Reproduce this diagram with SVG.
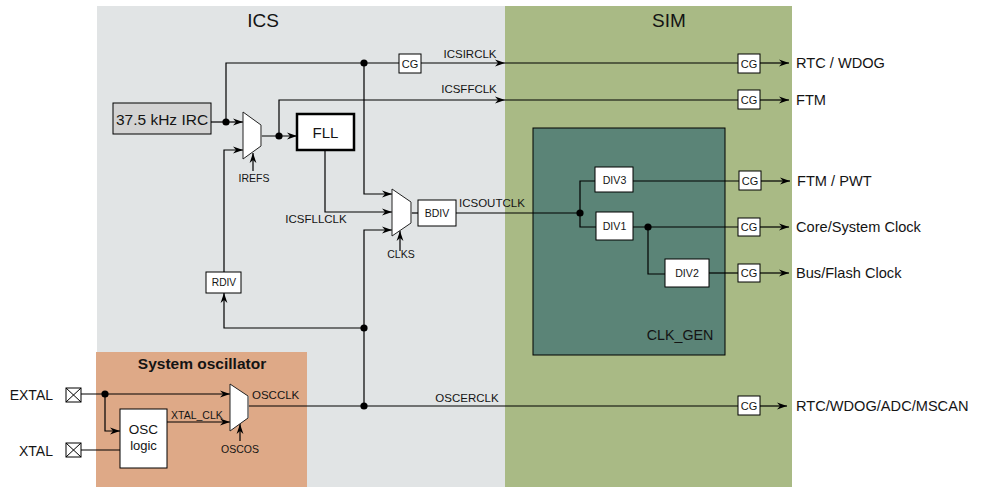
<svg xmlns="http://www.w3.org/2000/svg" width="996" height="487" viewBox="0 0 996 487">
<defs>
<marker id="arr" markerUnits="userSpaceOnUse" markerWidth="10" markerHeight="8" refX="10" refY="4" orient="auto">
<path d="M0,0.6 L10,4 L0,7.4 L3,4 z" fill="#000"/>
</marker>
<style>
text{font-family:"Liberation Sans",Arial,sans-serif;fill:#141414}
.w{fill:#fff;stroke:#000;stroke-width:1}
.c{fill:none;stroke:#000;stroke-width:1.2}
.a{fill:none;stroke:#000;stroke-width:1.2;marker-end:url(#arr)}
.d{fill:#000}
.mux{fill:#fff;stroke:#222;stroke-width:1}
.me{stroke:#8a8a8a;stroke-width:1.6}
.s{font-size:11.5px}
.xs{font-size:10.5px}
.cg{font-size:11px;text-anchor:middle}
.o{font-size:14.6px}
.t{font-size:19px;text-anchor:middle}
</style>
</defs>
<g id="backgrounds">
<rect x="97" y="6" width="408" height="481" fill="#e1e4e5"/>
<rect x="505" y="6" width="287" height="481" fill="#a9ba85"/>
<rect x="96" y="352" width="211" height="135" fill="#dea987"/>
<text class="t" x="263" y="27">ICS</text>
<text class="t" x="669" y="27">SIM</text>
<text x="202" y="369" font-size="15.5" font-weight="bold" text-anchor="middle">System oscillator</text>
</g>
<g id="clk_gen">
<rect x="533" y="128" width="192" height="227" fill="#5b8477" stroke="#000" stroke-width="1"/>
<text x="680" y="340" font-size="14.3" text-anchor="middle">CLK_GEN</text>
</g>
<g id="connectors">
<path class="a" d="M211,122 H243"/>
<path class="c" d="M226,122 V63 H399"/>
<path class="a" d="M421,63 H505"/>
<path class="c" d="M505,63 H738"/>
<path class="a" d="M760,63 H789"/>
<path class="a" d="M261,136 H297"/>
<path class="a" d="M279,136 V100 H505"/>
<path class="c" d="M505,100 H738"/>
<path class="a" d="M760,100 H789"/>
<path class="a" d="M325,150 V212 H392"/>
<path class="a" d="M364,63 V194 H392"/>
<path class="a" d="M364,406 V230 H392"/>
<path class="a" d="M400,251 V231"/>
<path class="a" d="M253,171 V153"/>
<path class="a" d="M240,441 V424"/>
<path class="c" d="M411,213 H418"/>
<path class="c" d="M456,213 H580"/>
<path class="c" d="M595,181 H580 V227 H596"/>
<path class="c" d="M633,181 H739"/>
<path class="a" d="M761,181 H790"/>
<path class="c" d="M633,227 H738"/>
<path class="a" d="M760,227 H789"/>
<path class="c" d="M648,227 V274 H665"/>
<path class="c" d="M709,273 H738"/>
<path class="a" d="M760,273 H789"/>
<path class="a" d="M81,394 H230"/>
<path class="a" d="M105,394 V431 H120"/>
<path class="c" d="M81,450 H120"/>
<path class="a" d="M167,422 H230"/>
<path class="c" d="M248,406 H738"/>
<path class="a" d="M760,406 H787"/>
<path class="a" d="M364,328 H224 V293"/>
<path class="a" d="M224,272 V150 H243"/>
<circle class="d" cx="226" cy="122" r="3.6"/>
<circle class="d" cx="364" cy="63" r="3.6"/>
<circle class="d" cx="279" cy="136" r="3.6"/>
<circle class="d" cx="580" cy="213" r="3.6"/>
<circle class="d" cx="648" cy="227" r="3.6"/>
<circle class="d" cx="105" cy="394" r="3.6"/>
<circle class="d" cx="364" cy="406" r="3.6"/>
<circle class="d" cx="364" cy="328" r="3.6"/>
<text class="s" x="470" y="58" text-anchor="middle">ICSIRCLK</text>
<text class="s" x="469" y="93" text-anchor="middle">ICSFFCLK</text>
<text class="s" x="316" y="223" text-anchor="middle">ICSFLLCLK</text>
<text class="s" x="459" y="207">ICSOUTCLK</text>
<text class="s" x="252" y="399">OSCCLK</text>
<text class="s" x="467" y="402" text-anchor="middle">OSCERCLK</text>
<text class="xs" x="171" y="419">XTAL_CLK</text>
<text class="xs" x="254" y="182" text-anchor="middle">IREFS</text>
<text class="xs" x="401" y="258" text-anchor="middle">CLKS</text>
<text class="xs" x="240" y="453" text-anchor="middle">OSCOS</text>
</g>
<g id="irc">
<rect x="113" y="103" width="98" height="31" fill="#d3d3d3" stroke="#000" stroke-width="1"/>
<text x="162" y="125" font-size="15.5" text-anchor="middle">37.5 kHz IRC</text>
</g>
<g id="mux_irefs">
<polygon class="mux" points="243,112 261,125 261,146 243,159"/>
<line class="me" x1="261" y1="125" x2="261" y2="146"/>
</g>
<g id="fll">
<rect x="297" y="114" width="57" height="36" fill="#fff" stroke="#000" stroke-width="2.5"/>
<text x="325.5" y="138" font-size="15" text-anchor="middle">FLL</text>
</g>
<g id="cg_ircs">
<rect class="w" x="399" y="54" width="22" height="19"/>
<text class="cg" x="410" y="67.5">CG</text>
</g>
<g id="mux_clks">
<polygon class="mux" points="392,189 411,202 411,223 392,236"/>
<line class="me" x1="411" y1="202" x2="411" y2="223"/>
</g>
<g id="bdiv">
<rect class="w" x="418" y="200" width="38" height="26"/>
<text x="437" y="217" font-size="10.5" text-anchor="middle">BDIV</text>
</g>
<g id="rdiv">
<rect class="w" x="206" y="272" width="35" height="21"/>
<text x="224" y="286" font-size="10.2" text-anchor="middle">RDIV</text>
</g>
<g id="div3">
<rect class="w" x="595" y="167" width="38" height="25"/>
<text x="614.5" y="183.5" font-size="10.6" text-anchor="middle">DIV3</text>
</g>
<g id="div1">
<rect class="w" x="596" y="212" width="37" height="28"/>
<text x="614.5" y="230" font-size="10.6" text-anchor="middle">DIV1</text>
</g>
<g id="div2">
<rect class="w" x="665" y="259" width="44" height="28"/>
<text x="687" y="276.5" font-size="10.6" text-anchor="middle">DIV2</text>
</g>
<g id="cg_rtc">
<rect class="w" x="738" y="54" width="22" height="19"/>
<text class="cg" x="749" y="67.5">CG</text>
</g>
<g id="cg_ftm">
<rect class="w" x="738" y="90" width="22" height="19"/>
<text class="cg" x="749" y="103.5">CG</text>
</g>
<g id="cg_pwt">
<rect class="w" x="739" y="171" width="22" height="19"/>
<text class="cg" x="750" y="184.5">CG</text>
</g>
<g id="cg_core">
<rect class="w" x="738" y="218" width="22" height="18"/>
<text class="cg" x="749" y="231">CG</text>
</g>
<g id="cg_bus">
<rect class="w" x="738" y="264" width="22" height="18"/>
<text class="cg" x="749" y="277">CG</text>
</g>
<g id="cg_osc">
<rect class="w" x="738" y="396" width="22" height="19"/>
<text class="cg" x="749" y="409.5">CG</text>
</g>
<g id="outputs">
<text class="o" x="796" y="68">RTC / WDOG</text>
<text class="o" x="796" y="105">FTM</text>
<text class="o" x="797" y="186">FTM / PWT</text>
<text class="o" x="796" y="232">Core/System Clock</text>
<text class="o" x="796" y="278">Bus/Flash Clock</text>
<text class="o" x="796" y="411">RTC/WDOG/ADC/MSCAN</text>
</g>
<g id="pad_extal">
<rect class="w" x="66" y="388" width="15" height="14"/>
<path d="M66,388 L81,402 M81,388 L66,402" stroke="#000" stroke-width="1"/>
<text x="53" y="400" font-size="14" text-anchor="end">EXTAL</text>
</g>
<g id="pad_xtal">
<rect class="w" x="66" y="443" width="15" height="14"/>
<path d="M66,443 L81,457 M81,443 L66,457" stroke="#000" stroke-width="1"/>
<text x="53" y="456" font-size="14" text-anchor="end">XTAL</text>
</g>
<g id="osc_logic">
<rect class="w" x="120" y="409" width="47" height="59"/>
<text x="143.5" y="434" font-size="13.5" text-anchor="middle">OSC</text>
<text x="143.5" y="450" font-size="13" text-anchor="middle">logic</text>
</g>
<g id="mux_oscos">
<polygon class="mux" points="230,384 248,396 248,418 230,431"/>
<line class="me" x1="248" y1="396" x2="248" y2="418"/>
</g>
</svg>
